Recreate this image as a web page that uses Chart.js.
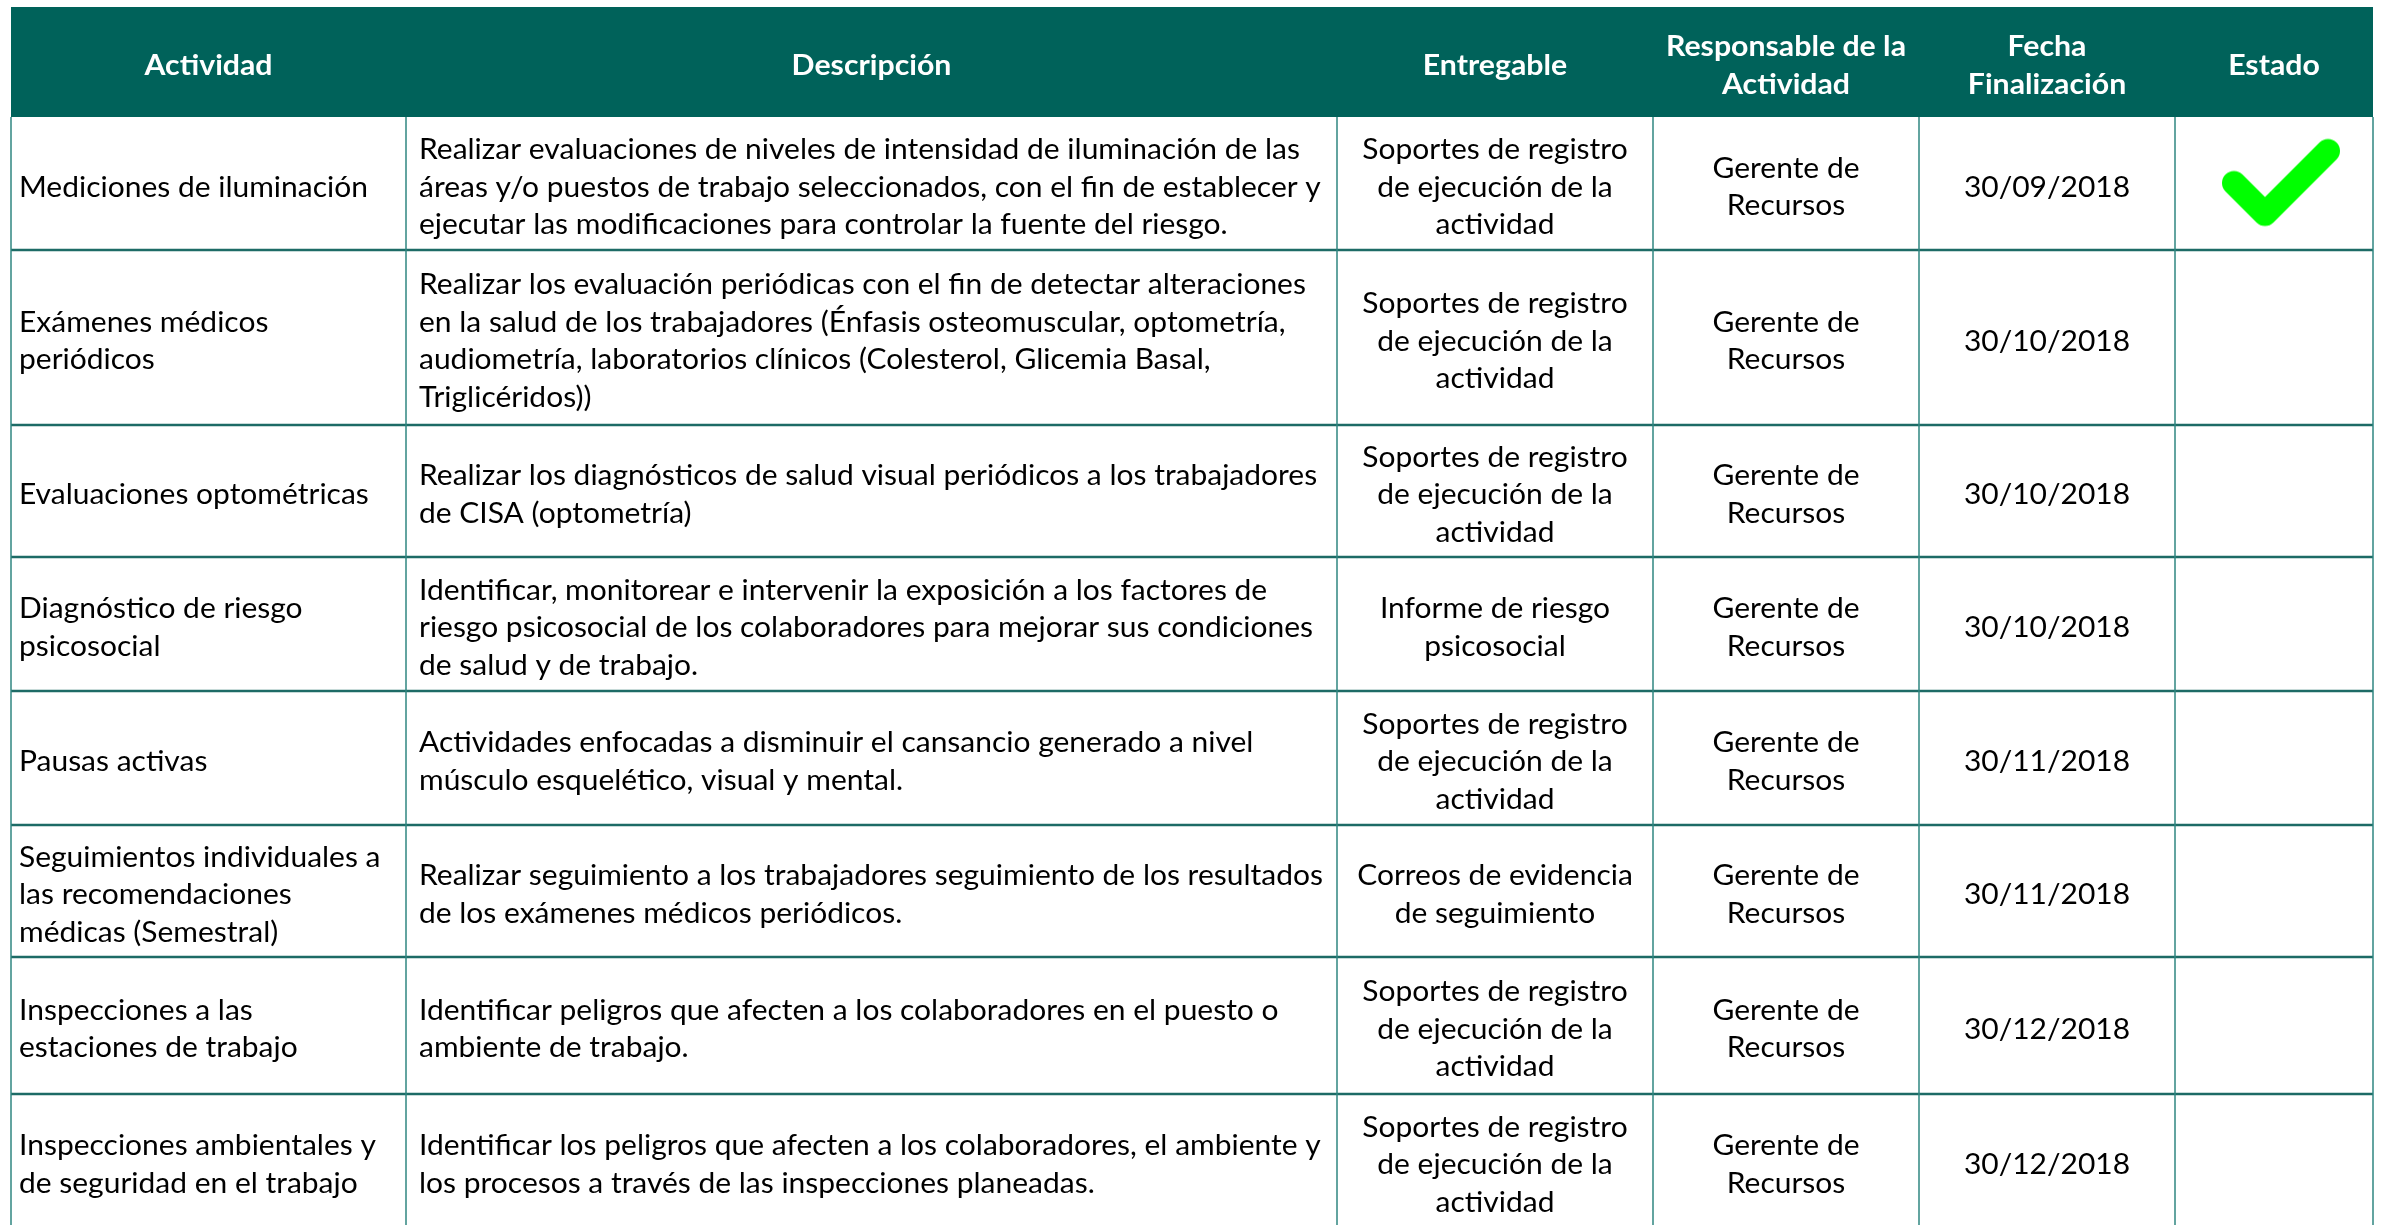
<!DOCTYPE html>
<html lang="es">
<head>
<meta charset="utf-8">
<title>Plan de actividades</title>
<script src="https://cdn.jsdelivr.net/npm/chart.js@4.4.1/dist/chart.umd.min.js"></script>
<style>
  html, body { margin: 0; padding: 0; background: #fff; }
  canvas { display: block; }
</style>
</head>
<body>
<canvas id="tabla" width="2382" height="1225"></canvas>
<script>
// Table content
const encabezados = ['Actividad', 'Descripción', 'Entregable', 'Responsable de la\nActividad', 'Fecha\nFinalización', 'Estado'];

const actividades = [
    'Mediciones de iluminación',
    'Exámenes médicos\nperiódicos',
    'Evaluaciones optométricas',
    'Diagnóstico de riesgo\npsicosocial',
    'Pausas activas',
    'Seguimientos individuales a\nlas recomendaciones\nmédicas (Semestral)',
    'Inspecciones a las\nestaciones de trabajo',
    'Inspecciones ambientales y\nde seguridad en el trabajo'
];

const descripciones = [
    'Realizar evaluaciones de niveles de intensidad de iluminación de las\náreas y/o puestos de trabajo seleccionados, con el fin de establecer y\nejecutar las modificaciones para controlar la fuente del riesgo.',
    'Realizar los evaluación periódicas con el fin de detectar alteraciones\nen la salud de los trabajadores (Énfasis osteomuscular, optometría,\naudiometría, laboratorios clínicos (Colesterol, Glicemia Basal,\nTriglicéridos))',
    'Realizar los diagnósticos de salud visual periódicos a los trabajadores\nde CISA (optometría)',
    'Identificar, monitorear e intervenir la exposición a los factores de\nriesgo psicosocial de los colaboradores para mejorar sus condiciones\nde salud y de trabajo.',
    'Actividades enfocadas a disminuir el cansancio generado a nivel\nmúsculo esquelético, visual y mental.',
    'Realizar seguimiento a los trabajadores seguimiento de los resultados\nde los exámenes médicos periódicos.',
    'Identificar peligros que afecten a los colaboradores en el puesto o\nambiente de trabajo.',
    'Identificar los peligros que afecten a los colaboradores, el ambiente y\nlos procesos a través de las inspecciones planeadas.'
];

const soportes = 'Soportes de registro\nde ejecución de la\nactividad';
const entregables = [
    soportes, soportes, soportes,
    'Informe de riesgo\npsicosocial',
    soportes,
    'Correos de evidencia\nde seguimiento',
    soportes, soportes
];

const responsables = Array(8).fill('Gerente de\nRecursos');

const fechas = ['30/09/2018', '30/10/2018', '30/10/2018', '30/10/2018', '30/11/2018', '30/11/2018', '30/12/2018', '30/12/2018'];

// only the first activity is marked as done
const estados = ['Terminado', '', '', '', '', '', '', ''];

// Layout, in scale units (the scales map 1:1 onto the canvas)
const colEdges = [11, 406, 1337, 1653, 1919, 2175, 2373];
const rowEdges = [7, 117, 250, 425, 557, 691, 825, 957, 1094, 1228];
const colAlign = ['left', 'left', 'center', 'center', 'center', 'center'];
const colPad = [8, 13, 0, 0, 0, 0];
const lineHeight = 37.5;

const headerColor = '#00625a';
const rowLineColor = '#1d6b66';
const colLineColor = '#2f8680';
const textColor = '#000000';
const fontFamily = 'Lato, "Open Sans", sans-serif';
const fontSize = 28;

// Narrow the substitute font so lines are as wide as in the original
const measureCtx = document.createElement('canvas').getContext('2d');
measureCtx.font = fontSize + 'px ' + fontFamily;
const bodyStretch = 881 / measureCtx.measureText('Realizar evaluaciones de niveles de intensidad de iluminación de las').width;
measureCtx.font = 'bold ' + fontSize + 'px ' + fontFamily;
const headStretch = 240 / measureCtx.measureText('Responsable de la').width;

// Check mark image used as point style
function makeCheck() {
    const c = document.createElement('canvas');
    c.width = 150;
    c.height = 110;
    const g = c.getContext('2d');
    g.strokeStyle = '#00ff00';
    g.lineWidth = 24;
    g.lineCap = 'round';
    g.lineJoin = 'round';
    g.beginPath();
    g.moveTo(35, 54.5);
    g.lineTo(66, 85.5);
    g.lineTo(129, 22.5);
    g.stroke();
    return c;
}

const rowCenter = i => (rowEdges[i + 1] + rowEdges[i + 2]) / 2;
const colCenter = j => (colEdges[j] + colEdges[j + 1]) / 2;

const puntosEstado = [];
estados.forEach((e, i) => {
    if (e) puntosEstado.push({ x: colCenter(5), y: rowCenter(i) });
});

function drawCellText(ctx, text, j, yMid, stretch, align, xs, ys) {
    const lines = text.split('\n');
    const xv = align === 'left' ? colEdges[j] + colPad[j] : colCenter(j);
    const px = xs.getPixelForValue(xv);
    lines.forEach((line, k) => {
        const yv = yMid + (k - (lines.length - 1) / 2) * lineHeight;
        ctx.save();
        ctx.translate(px, ys.getPixelForValue(yv));
        ctx.scale(stretch, 1);
        ctx.textAlign = align;
        ctx.fillText(line, 0, 0);
        ctx.restore();
    });
}

const tablaPlugin = {
    id: 'tabla',
    beforeDatasetsDraw(chart) {
        const ctx = chart.ctx;
        const xs = chart.scales.x;
        const ys = chart.scales.y;
        const X = v => xs.getPixelForValue(v);
        const Y = v => ys.getPixelForValue(v);
        const left = colEdges[0], right = colEdges[colEdges.length - 1];
        const bottom = rowEdges[rowEdges.length - 1];

        ctx.save();
        // header band
        ctx.fillStyle = headerColor;
        ctx.fillRect(X(left), Y(rowEdges[0]), X(right) - X(left), Y(rowEdges[1]) - Y(rowEdges[0]));

        // row lines
        ctx.strokeStyle = rowLineColor;
        ctx.lineWidth = 2.5;
        for (let i = 2; i < rowEdges.length; i++) {
            ctx.beginPath();
            ctx.moveTo(X(left), Y(rowEdges[i]));
            ctx.lineTo(X(right), Y(rowEdges[i]));
            ctx.stroke();
        }
        // column lines
        ctx.strokeStyle = colLineColor;
        ctx.lineWidth = 1.5;
        colEdges.forEach(c => {
            ctx.beginPath();
            ctx.moveTo(X(c), Y(rowEdges[1]));
            ctx.lineTo(X(c), Y(bottom));
            ctx.stroke();
        });

        ctx.textBaseline = 'middle';
        // header text
        ctx.fillStyle = '#ffffff';
        ctx.font = 'bold ' + fontSize + 'px ' + fontFamily;
        const headMid = (rowEdges[0] + rowEdges[1]) / 2 + 4;
        encabezados.forEach((h, j) => {
            drawCellText(ctx, h, j, headMid, headStretch, 'center', xs, ys);
        });

        // body text
        ctx.fillStyle = textColor;
        ctx.font = fontSize + 'px ' + fontFamily;
        const columnas = [actividades, descripciones, entregables, responsables, fechas];
        actividades.forEach((_, i) => {
            const mid = rowCenter(i) + 4;
            columnas.forEach((col, j) => {
                drawCellText(ctx, col[i], j, mid, bodyStretch, colAlign[j], xs, ys);
            });
        });
        ctx.restore();
    }
};

new Chart(document.getElementById('tabla'), {
    type: 'scatter',
    data: {
        datasets: [{
            label: 'Estado',
            data: puntosEstado,
            pointStyle: makeCheck(),
            pointRadius: 40,
            pointHoverRadius: 40
        }]
    },
    options: {
        responsive: false,
        devicePixelRatio: 1,
        animation: false,
        events: [],
        layout: { padding: 0, autoPadding: false },
        scales: {
            x: { type: 'linear', min: 0, max: 2382, display: false },
            y: { type: 'linear', min: 0, max: 1225, reverse: true, display: false }
        },
        plugins: {
            legend: { display: false },
            tooltip: { enabled: false }
        }
    },
    plugins: [tablaPlugin]
});
</script>
</body>
</html>
